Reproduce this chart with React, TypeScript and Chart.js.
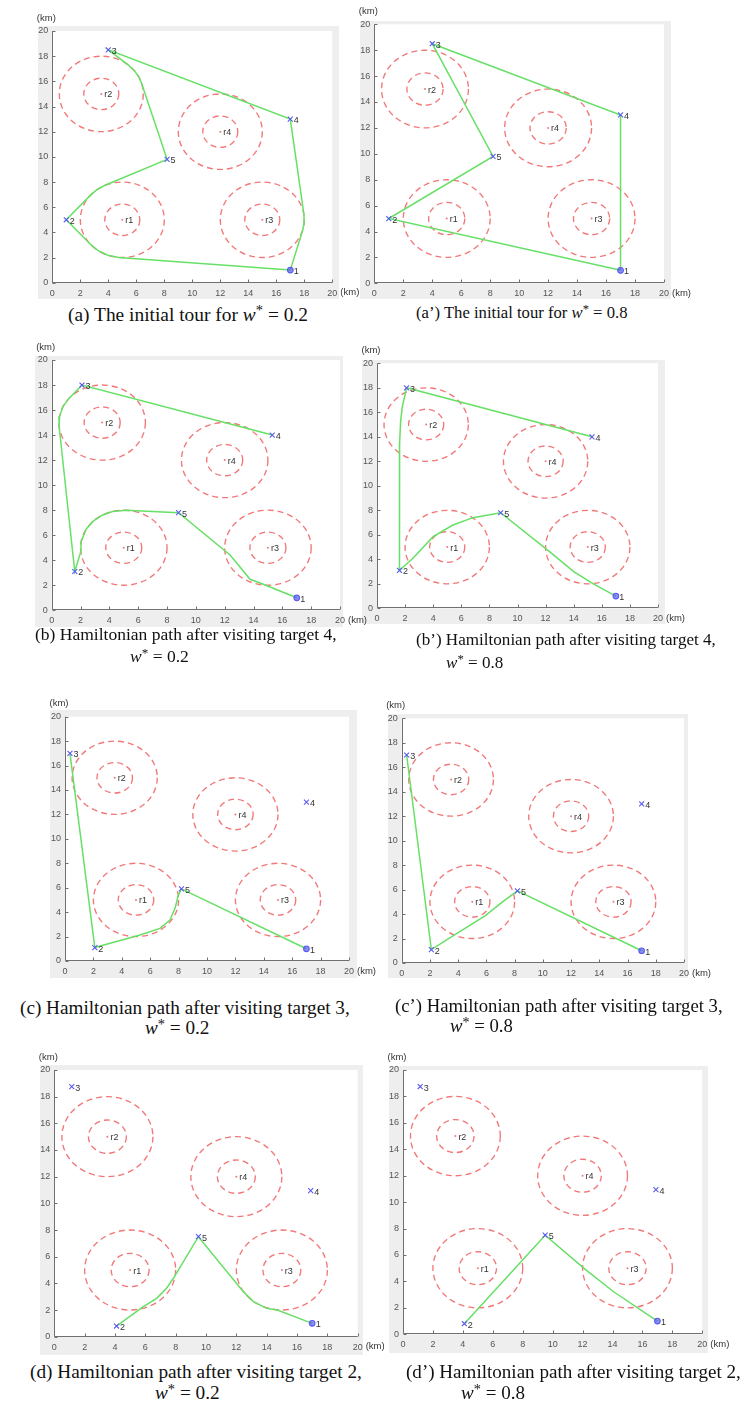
import React, { useEffect, useRef } from 'react';
import { Chart, registerables } from 'chart.js';
Chart.register(...registerables);

// ---------------- data ----------------
const TICK_VALUES = [0, 2, 4, 6, 8, 10, 12, 14, 16, 18, 20];
const AXIS_MIN = 0;
const AXIS_MAX = 20;
const AXIS_UNIT = '(km)';

const REGION_LABELS = ['r1', 'r2', 'r3', 'r4'];
const REGION_X = [5, 3.5, 15, 12];
const REGION_Y = [5, 15, 5, 12];
const INNER_RADIUS = 1.25;
const OUTER_RADIUS = 3;

const TARGET_LABELS = ['1', '2', '3', '4', '5'];
const W_VALUES = ['0.2', '0.8'];

// targets 1..5 (x, y) in km
const TARGETS_A = [[17, 1], [1, 5], [4, 18.5], [17, 13], [8.2, 9.8]];
const TARGETS_B = [[17, 1], [1.6, 3.1], [2.1, 18], [15.3, 14], [8.8, 7.8]];
const TARGETS_C = [[17, 1], [2.1, 1.1], [0.35, 17], [17, 13], [8.2, 5.9]];
const TARGETS_D = [[17, 1], [4.1, 0.8], [1.15, 18.75], [16.9, 10.95], [9.5, 7.5]];

// green paths (x, y) in km
const PATH_A = [[17, 1], [17.89, 4.19], [17.99, 4.79], [17.98, 5.38], [17, 13], [4, 18.5], [5.44, 17.29], [5.86, 16.85], [6.17, 16.36], [6.37, 15.87], [8.2, 9.8], [3.73, 7.72], [3.19, 7.4], [2.75, 6.98], [1, 5], [2.75, 3.02], [3.28, 2.54], [3.97, 2.18], [4.75, 2.01], [17, 1]];
const PATH_A2 = [[17, 1], [17, 13], [4, 18.5], [8.2, 9.8], [1, 5], [17, 1]];
const PATH_B = [[15.3, 14], [2.1, 18], [1.2, 16.93], [0.78, 16.27], [0.55, 15.52], [0.51, 14.72], [1.6, 3.1], [2.02, 4.69], [2.05, 5.52], [2.4, 6.5], [2.88, 7.12], [3.5, 7.6], [4.22, 7.9], [5.16, 8.0], [8.8, 7.8], [12.37, 4.42], [12.95, 3.62], [13.76, 2.48], [14.68, 2.08], [17, 1]];
const PATH_B2 = [[15.3, 14], [2.1, 18], [1.97, 17.28], [1.8, 16.46], [1.68, 15.24], [1.61, 13.47], [1.6, 3.1], [2.56, 4.08], [3.99, 5.85], [5.41, 6.8], [6.83, 7.4], [8.8, 7.8], [12.3, 4.6], [14.0, 3.0], [15.4, 2.0], [17, 1]];
const PATH_C = [[0.35, 17], [2.1, 1.1], [5.28, 2.13], [6.69, 2.67], [7.39, 3.36], [7.75, 4.31], [7.98, 5.4], [8.2, 5.9], [17, 1]];
const PATH_C2 = [[0.35, 17], [2.1, 1.1], [4.03, 2.51], [5.93, 3.88], [7.12, 4.97], [8.2, 5.9], [17, 1]];
const PATH_D = [[4.1, 0.8], [5.87, 2.25], [6.75, 2.88], [7.4, 3.63], [7.85, 4.38], [9.5, 7.5], [12.46, 3.38], [13.12, 2.63], [14.0, 2.13], [14.7, 2.0], [17, 1]];
const PATH_D2 = [[4.1, 0.8], [9.5, 7.5], [12.2, 4.9], [14.1, 3.2], [17, 1]];

const CAPTION_A = '(a) The initial tour for';
const CAPTION_A2 = '(a\u2019) The initial tour for';
const CAPTION_B = '(b) Hamiltonian path after visiting target 4,';
const CAPTION_B2 = '(b\u2019) Hamiltonian path after visiting target 4,';
const CAPTION_C = '(c) Hamiltonian path after visiting target 3,';
const CAPTION_C2 = '(c\u2019) Hamiltonian path after visiting target 3,';
const CAPTION_D = '(d) Hamiltonian path after visiting target 2,';
const CAPTION_D2 = '(d\u2019) Hamiltonian path after visiting target 2,';

// ---------------- style / layout ----------------
const GREEN = '#66e066';
const RED = 'rgba(240, 100, 100, 0.88)';
const BLUE = '#5a5af2';
const AXIS_COLOR = '#707070';
const TICK_COLOR = '#555555';
const TEXT_COLOR = '#333333';
const GRAY_BG = '#eeeeee';
const SANS = "'Liberation Sans', Arial, sans-serif";
const SERIF = "'Liberation Serif', 'Times New Roman', serif";

type Pt = number[];
interface PanelSpec {
  key: string;
  targets: Pt[];
  path: Pt[];
  w: string;
  plot: number[]; // l, t, r, b
  gray: number[];
  cap: { text: string; x1: number; x2: number; y1: number; x2l?: number; y2?: number };
}

const PANELS: PanelSpec[] = [
  { key: 'a', targets: TARGETS_A, path: PATH_A, w: W_VALUES[0], plot: [52.3, 31, 332.3, 282.7], gray: [37.7, 25.7, 339, 299], cap: { text: CAPTION_A, x1: 68, x2: 312, y1: 315 } },
  { key: 'a2', targets: TARGETS_A, path: PATH_A2, w: W_VALUES[1], plot: [374.3, 24.3, 664, 283.3], gray: [360, 20.7, 670.7, 299], cap: { text: CAPTION_A2, x1: 416, x2: 631, y1: 313 } },
  { key: 'b', targets: TARGETS_B, path: PATH_B, w: W_VALUES[0], plot: [51.7, 360, 340, 610.3], gray: [35, 355.7, 343, 627], cap: { text: CAPTION_B, x1: 35, x2: 337, y1: 635, x2l: 130, y2: 657 } },
  { key: 'b2', targets: TARGETS_B, path: PATH_B2, w: W_VALUES[1], plot: [377, 363.3, 658, 608.3], gray: [362, 360, 665.3, 623.7], cap: { text: CAPTION_B2, x1: 416, x2: 716, y1: 640, x2l: 446, y2: 663 } },
  { key: 'c', targets: TARGETS_C, path: PATH_C, w: W_VALUES[0], plot: [65, 716.7, 349, 961], gray: [50, 710, 356.7, 978.3], cap: { text: CAPTION_C, x1: 20, x2: 350, y1: 1008, x2l: 145, y2: 1028 } },
  { key: 'c2', targets: TARGETS_C, path: PATH_C2, w: W_VALUES[1], plot: [401.7, 718.3, 684, 963], gray: [388.3, 714.3, 688, 978], cap: { text: CAPTION_C2, x1: 395, x2: 723, y1: 1006.7, x2l: 450, y2: 1026.7 } },
  { key: 'd', targets: TARGETS_D, path: PATH_D, w: W_VALUES[0], plot: [54.3, 1070, 357.7, 1336.7], gray: [40, 1065, 363, 1355], cap: { text: CAPTION_D, x1: 30, x2: 362, y1: 1371.7, x2l: 155, y2: 1393 } },
  { key: 'd2', targets: TARGETS_D, path: PATH_D2, w: W_VALUES[1], plot: [403, 1070, 702.3, 1334.3], gray: [389, 1066, 708, 1353], cap: { text: CAPTION_D2, x1: 406, x2: 741, y1: 1371.7, x2l: 461, y2: 1393 } },
];

function Panel({ spec }: { spec: PanelSpec }) {
  const ref = useRef<HTMLCanvasElement | null>(null);
  const [pl, pt, pr, pb] = spec.plot;
  const cl = Math.floor(pl - 34);
  const ct = Math.floor(pt - 24);
  const cr = Math.ceil(pr + 38);
  const cb = Math.ceil(pb + 18);
  const cw = cr - cl;
  const ch = cb - ct;

  useEffect(() => {
    const canvas = ref.current;
    if (!canvas) return;
    const decor = {
      id: 'decor' + spec.key,
      beforeDraw(chart: any) {
        const { ctx, chartArea: a } = chart;
        ctx.save();
        ctx.fillStyle = '#ffffff';
        ctx.fillRect(a.left, a.top, a.right - a.left, a.bottom - a.top);
        ctx.restore();
      },
      beforeDatasetsDraw(chart: any) {
        const { ctx } = chart;
        const xs = chart.scales.x;
        const ys = chart.scales.y;
        ctx.save();
        ctx.strokeStyle = RED;
        ctx.lineWidth = 1.35;
        ctx.setLineDash([6, 4]);
        REGION_X.forEach((cx, i) => {
          const cy = REGION_Y[i];
          const px = xs.getPixelForValue(cx);
          const py = ys.getPixelForValue(cy);
          [INNER_RADIUS, OUTER_RADIUS].forEach((r) => {
            const rx = Math.abs(xs.getPixelForValue(cx + r) - px);
            const ry = Math.abs(ys.getPixelForValue(cy + r) - py);
            ctx.beginPath();
            ctx.ellipse(px, py, rx, ry, 0, 0, Math.PI * 2);
            ctx.stroke();
          });
        });
        ctx.restore();
      },
      afterDatasetsDraw(chart: any) {
        const { ctx, chartArea: a } = chart;
        const xs = chart.scales.x;
        const ys = chart.scales.y;
        ctx.save();
        // axes (left + bottom) with inward ticks
        ctx.strokeStyle = AXIS_COLOR;
        ctx.lineWidth = 1;
        ctx.beginPath();
        const L = Math.round(a.left) + 0.5;
        const B = Math.round(a.bottom) - 0.5;
        ctx.moveTo(L, a.top);
        ctx.lineTo(L, B);
        ctx.lineTo(a.right, B);
        TICK_VALUES.forEach((v) => {
          const x = Math.round(xs.getPixelForValue(v)) + 0.5;
          ctx.moveTo(x, B);
          ctx.lineTo(x, B - 3);
          const y = Math.round(ys.getPixelForValue(v)) + 0.5;
          ctx.moveTo(L, y);
          ctx.lineTo(L + 3, y);
        });
        ctx.stroke();
        // labels
        ctx.fillStyle = TEXT_COLOR;
        ctx.font = `9px ${SANS}`;
        ctx.textBaseline = 'middle';
        ctx.textAlign = 'left';
        spec.targets.forEach((p, i) => {
          ctx.fillText(TARGET_LABELS[i], xs.getPixelForValue(p[0]) + 3.5, ys.getPixelForValue(p[1]) + 1.5);
        });
        REGION_X.forEach((cx, i) => {
          ctx.fillText(REGION_LABELS[i], xs.getPixelForValue(cx) + 3, ys.getPixelForValue(REGION_Y[i]) + 1);
        });
        ctx.font = `9.5px ${SANS}`;
        ctx.textAlign = 'center';
        ctx.fillText(AXIS_UNIT, a.left - 6, a.top - 13);
        ctx.textAlign = 'left';
        ctx.fillText(AXIS_UNIT, a.right + 8, a.bottom + 10);
        ctx.restore();
      },
    };

    const tickCfg = {
      color: TICK_COLOR,
      font: { size: 9, family: SANS },
      maxRotation: 0,
      autoSkip: false,
    };
    const chart = new Chart(canvas, {
      type: 'scatter',
      data: {
        datasets: [
          {
            label: 'targets',
            data: spec.targets.map((p) => ({ x: p[0], y: p[1] })),
            pointStyle: spec.targets.map((_, i) => (i === 0 ? 'circle' : 'crossRot')) as any,
            pointRadius: spec.targets.map((_, i) => (i === 0 ? 2.8 : 3.5)),
            borderColor: BLUE,
            backgroundColor: spec.targets.map((_, i) => (i === 0 ? 'rgba(80,80,245,0.65)' : 'rgba(0,0,0,0)')),
            borderWidth: 1.1,
            order: 0,
          },
          {
            label: 'centers',
            data: REGION_X.map((x, i) => ({ x, y: REGION_Y[i] })),
            pointStyle: 'circle',
            pointRadius: 1,
            backgroundColor: RED,
            borderWidth: 0,
            order: 1,
          },
          {
            label: 'path',
            data: spec.path.map((p) => ({ x: p[0], y: p[1] })),
            showLine: true,
            borderColor: GREEN,
            borderWidth: 1.5,
            pointRadius: 0,
            fill: false,
            tension: 0,
            order: 2,
          } as any,
        ],
      },
      options: {
        responsive: false,
        maintainAspectRatio: false,
        animation: false,
        events: [],
        layout: { padding: { left: 0, top: pt - ct, right: cr - pr, bottom: 0 } },
        plugins: { legend: { display: false }, tooltip: { enabled: false }, title: { display: false } },
        scales: {
          x: {
            type: 'linear',
            position: 'bottom',
            min: AXIS_MIN,
            max: AXIS_MAX,
            grid: { display: false, drawTicks: false },
            border: { display: false },
            ticks: { ...tickCfg, padding: 5 },
            afterBuildTicks: (s: any) => { s.ticks = TICK_VALUES.map((v) => ({ value: v })); },
            afterFit: (s: any) => { s.height = cb - pb; },
          },
          y: {
            type: 'linear',
            position: 'left',
            min: AXIS_MIN,
            max: AXIS_MAX,
            grid: { display: false, drawTicks: false },
            border: { display: false },
            ticks: { ...tickCfg, padding: 4 },
            afterBuildTicks: (s: any) => { s.ticks = TICK_VALUES.map((v) => ({ value: v })); },
            afterFit: (s: any) => { s.width = pl - cl; },
          },
        },
      } as any,
      plugins: [decor],
    });
    return () => chart.destroy();
  }, []);

  return (
    <canvas
      ref={ref}
      width={cw}
      height={ch}
      style={{ position: 'absolute', left: cl, top: ct, width: cw, height: ch }}
    />
  );
}

let measureCtx: CanvasRenderingContext2D | null = null;
function measure(text: string, size: number) {
  if (!measureCtx) measureCtx = document.createElement('canvas').getContext('2d');
  if (!measureCtx) return text.length * size * 0.45;
  measureCtx.font = `${size}px ${SERIF}`;
  return measureCtx.measureText(text).width;
}

function MathW({ w }: { w: string }) {
  return (
    <>
      <span style={{ fontStyle: 'italic' }}>w</span>
      <span style={{ position: 'relative', top: '-0.4em', fontSize: '0.75em' }}>*</span>
      {' = '}
      {w}
    </>
  );
}

function Caption({ spec }: { spec: PanelSpec }) {
  const c = spec.cap;
  const two = c.y2 !== undefined;
  const sample = two ? c.text : `${c.text} w* = ${spec.w}`;
  const fs = (100 * (c.x2 - c.x1)) / measure(sample, 100);
  const base: React.CSSProperties = {
    position: 'absolute',
    whiteSpace: 'nowrap',
    fontFamily: SERIF,
    fontSize: fs,
    lineHeight: `${fs}px`,
    color: '#111',
  };
  return (
    <>
      <div style={{ ...base, left: c.x1, top: c.y1 - fs * 0.5 }}>
        {c.text}
        {two ? null : <>{' '}<MathW w={spec.w} /></>}
      </div>
      {two ? (
        <div style={{ ...base, left: c.x2l, top: (c.y2 as number) - fs * 0.5 }}>
          <MathW w={spec.w} />
        </div>
      ) : null}
    </>
  );
}

export default function App() {
  return (
    <div style={{ position: 'absolute', left: 0, top: 0, width: 746, height: 1403, background: '#ffffff', overflow: 'hidden' }}>
      {PANELS.map((p) => (
        <div
          key={'g' + p.key}
          style={{
            position: 'absolute',
            left: p.gray[0],
            top: p.gray[1],
            width: p.gray[2] - p.gray[0],
            height: p.gray[3] - p.gray[1],
            background: GRAY_BG,
          }}
        />
      ))}
      {PANELS.map((p) => (
        <Panel key={'p' + p.key} spec={p} />
      ))}
      {PANELS.map((p) => (
        <Caption key={'c' + p.key} spec={p} />
      ))}
    </div>
  );
}
